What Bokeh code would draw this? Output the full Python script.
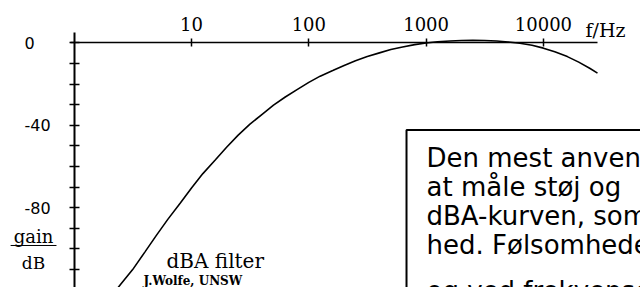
from bokeh.plotting import figure
from bokeh.models import LogAxis, LinearAxis, FixedTicker, Label, Arrow, Range1d
from bokeh.embed import file_html
from bokeh.resources import INLINE

# ---- data (A-weighting curve) ----
freq_hz = [2, 2.5, 3.15, 4, 5, 6.3, 8, 10, 12.5, 16, 20, 25, 31.5, 40, 50, 63, 80,
           100, 125, 160, 200, 250, 315, 400, 500, 630, 800, 1000, 1250, 1600, 2000,
           2500, 3150, 4000, 5000, 6300, 8000, 10000, 12500, 16000, 20000, 25000, 28900]
gain_db = [-124.0, -117.0, -110.0, -101.5, -93.5, -85.5, -77.8, -70.4, -63.4, -56.7,
           -50.5, -44.7, -39.4, -34.6, -30.2, -26.2, -22.5, -19.1, -16.1, -13.4, -10.9,
           -8.6, -6.6, -4.8, -3.2, -1.9, -0.8, 0.0, 0.6, 1.0, 1.2, 1.3, 1.2, 1.0, 0.5,
           -0.1, -1.1, -2.5, -4.3, -6.6, -9.3, -12.4, -14.6]

x_ticks = [10, 100, 1000, 10000]
x_tick_labels = ["10", "100", "1000", "10000"]
y_ticks = [0, -10, -20, -30, -40, -50, -60, -70, -80, -90, -100, -110]
y_label_values = [0, -40, -80]
y_label_texts = ["0", "-40", "-80"]

box_lines = ["Den mest anvendte", "at måle støj og", "dBA-kurven, som",
             "hed. Følsomheden"]
box_last_line = "og ved frekvenser"

p = figure(width=640, height=287, output_backend="svg", toolbar_location=None,
           x_axis_type="log", x_axis_location=None, y_axis_location=None,
           x_range=Range1d(0.2353, 67240), y_range=Range1d(-118.69, 20.63),
           min_border_left=0, min_border_right=0, min_border_top=0, min_border_bottom=0)
p.outline_line_color = None
p.xgrid.visible = False
p.ygrid.visible = False
p.background_fill_color = "white"
p.border_fill_color = "white"

# curve
p.line(freq_hz, gain_db, line_color="black", line_width=1.6)

# axes crossing at (1 Hz, 0 dB)
xa = LogAxis(fixed_location=0, bounds=(0.930, 28900), ticker=FixedTicker(ticks=x_ticks),
             major_label_overrides={t: s for t, s in zip(x_ticks, x_tick_labels)})
xa.axis_line_width = 1.5
xa.major_tick_in = 4
xa.major_tick_out = 4
xa.major_tick_line_width = 1.5
xa.minor_tick_line_color = None
xa.major_label_standoff = 8
xa.major_label_text_font = "DejaVu Serif"
xa.major_label_text_font_size = "18px"
xa.major_label_text_color = "black"
p.add_layout(xa, "above")

ya = LinearAxis(fixed_location=1, bounds=(-120, 5.1), ticker=FixedTicker(ticks=y_ticks))
ya.axis_line_width = 2
ya.major_tick_in = 5
ya.major_tick_out = 5
ya.major_tick_line_width = 1.5
ya.minor_tick_line_color = None
ya.major_label_text_color = None
p.add_layout(ya, "left")

# y tick labels
for v, s in zip(y_label_values, y_label_texts):
    p.add_layout(Label(x=0.377, y=v, text=s, text_align="left", text_baseline="middle",
                       text_font="DejaVu Sans", text_font_size="16px", text_color="black"))

p.add_layout(Label(x=22870, y=6.1, text="f/Hz", text_align="left", text_baseline="alphabetic",
                   text_font="DejaVu Serif", text_font_size="19px", text_color="black"))

# gain / dB fraction
p.add_layout(Label(x=0.450, y=-93.9, text="gain", text_align="center", text_baseline="alphabetic",
                   text_font="DejaVu Serif", text_font_size="18px", text_color="black"))
p.add_layout(Label(x=0.450, y=-106.6, text="dB", text_align="center", text_baseline="alphabetic",
                   text_font="DejaVu Serif", text_font_size="17px", text_color="black"))
p.add_layout(Arrow(start=None, end=None, x_start=0.287, x_end=0.706, y_start=-98.3, y_end=-98.3,
                   line_color="black", line_width=1))

p.add_layout(Label(x=6.12, y=-105.6, text="dBA filter", text_align="left", text_baseline="alphabetic",
                   text_font="DejaVu Serif", text_font_size="20px", text_color="black"))
p.add_layout(Label(x=3.90, y=-115.6, text="J.Wolfe, UNSW", text_align="left", text_baseline="alphabetic",
                   text_font="DejaVu Serif", text_font_style="bold", text_font_size="12px",
                   text_color="black"))

# text box
p.add_layout(Label(x=680.6, y=-42.2, text="\n".join(box_lines), text_align="left",
                   text_baseline="top", text_font="DejaVu Sans", text_font_size="26px",
                   text_color="black", text_line_height=0.968,
                   background_fill_color="white", border_line_color="black",
                   border_line_width=2, padding=(20, 20, 13, 60)))
p.add_layout(Label(x=1008, y=-120.2, text=box_last_line, text_align="left",
                   text_baseline="alphabetic", text_font="DejaVu Sans", text_font_size="26px",
                   text_color="black"))

open("out.html", "w").write(file_html(p, INLINE))
